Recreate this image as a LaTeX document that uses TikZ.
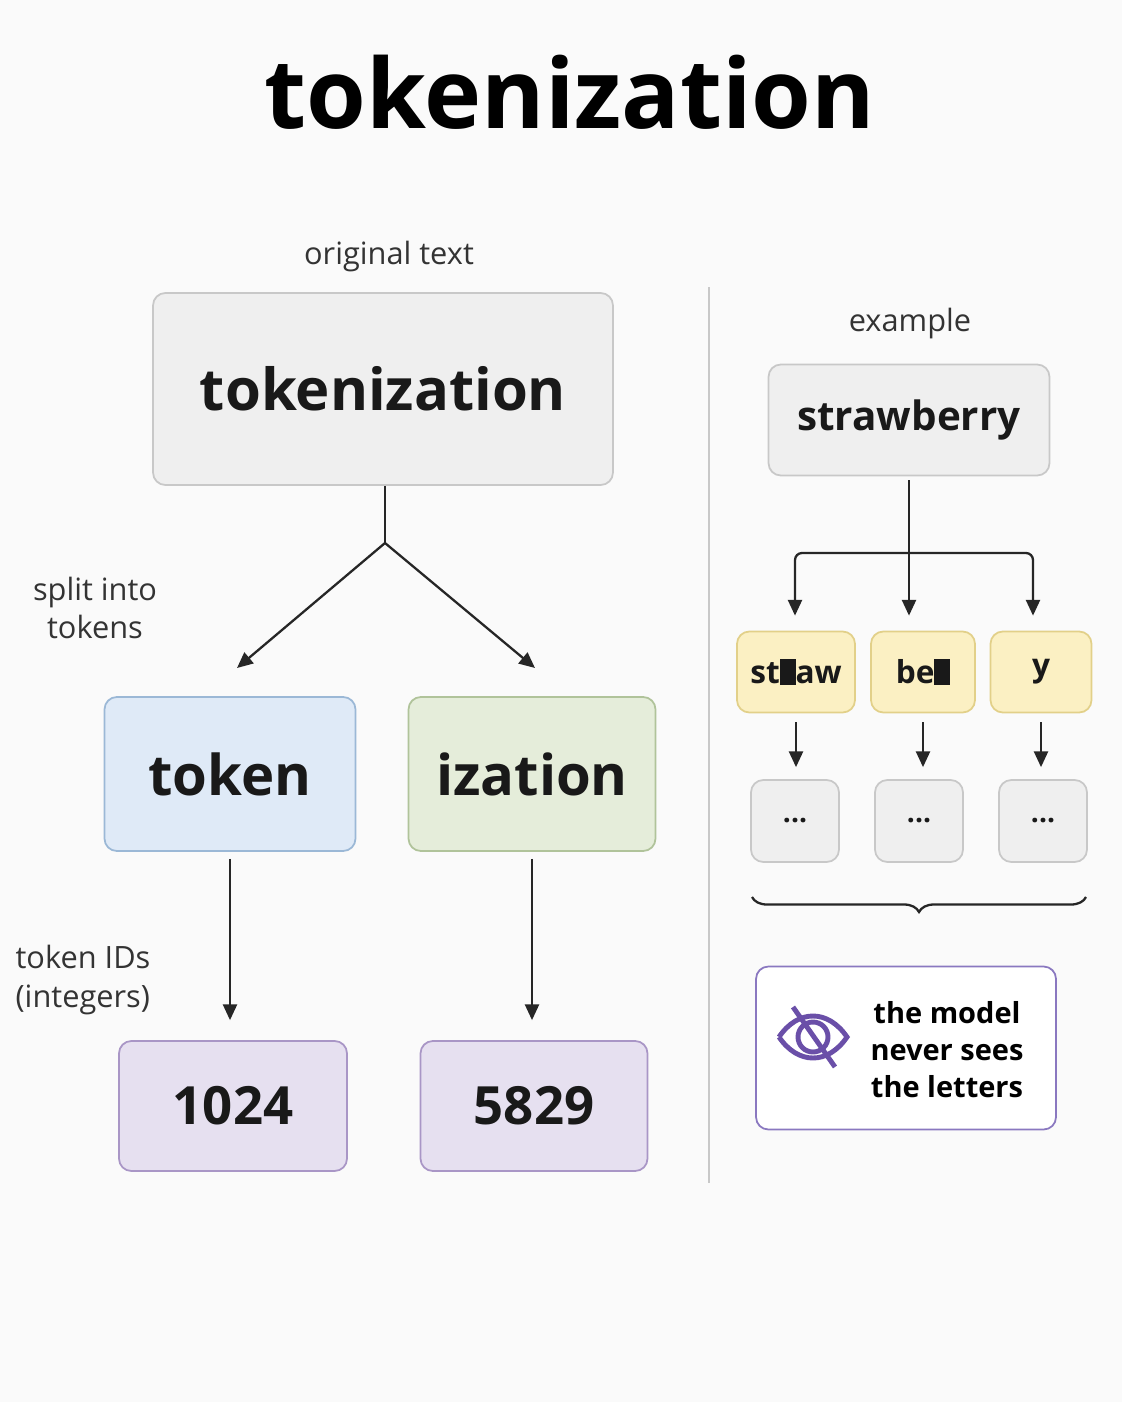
\documentclass[tikz,border=0pt]{standalone}
\usepackage{fontspec}
\setmainfont{Open Sans}
\usetikzlibrary{arrows.meta,decorations.pathreplacing}
\definecolor{bggray}{RGB}{250,250,250}
\definecolor{boxgray}{RGB}{239,239,239}
\definecolor{linegray}{RGB}{200,200,200}
\definecolor{tokblue}{RGB}{223,234,247}
\definecolor{tokblueline}{RGB}{155,184,214}
\definecolor{tokgreen}{RGB}{229,237,218}
\definecolor{tokgreenline}{RGB}{176,195,154}
\definecolor{idpurple}{RGB}{230,224,240}
\definecolor{idpurpleline}{RGB}{169,150,198}
\definecolor{partyellow}{RGB}{251,240,195}
\definecolor{partyellowline}{RGB}{226,208,137}
\definecolor{eyepurple}{RGB}{106,79,168}
\definecolor{noteline}{RGB}{138,120,192}
\tikzset{
  rbox/.style={draw, rounded corners=7pt, line width=1pt, inner sep=0pt, text=black!90},
  arr/.style={-{Triangle[length=9pt,width=8pt]}, line width=1.3pt, draw=black!85},
  label/.style={font=\fontsize{17.5}{22}\selectfont, text=black!80, align=center}
}
\begin{document}
\begin{tikzpicture}[x=0.02cm,y=-0.02cm]
\fill[bggray] (0,0) rectangle (1122,1402);
\useasboundingbox (0,0) rectangle (1122,1402);

% title
\node[font=\fontsize{55}{55}\selectfont\bfseries] (title) at (570,92) {tokenization};

% left side
\node[label] (origlab) at (389,257) {original text};
\node[rbox, fill=boxgray, draw=linegray, minimum width=9.2cm, minimum height=3.84cm,
      font=\fontsize{33}{33}\selectfont\bfseries] (orig) at (383,389) {tokenization};
\coordinate (fork) at (385,543);
\node[rbox, fill=tokblue, draw=tokblueline, minimum width=5.02cm, minimum height=3.08cm,
      font=\fontsize{32}{32}\selectfont\bfseries] (tok1) at (230,774) {token};
\node[rbox, fill=tokgreen, draw=tokgreenline, minimum width=4.94cm, minimum height=3.08cm,
      font=\fontsize{32}{32}\selectfont\bfseries] (tok2) at (532,774) {ization};
\coordinate (tip1) at (237,668);
\coordinate (tip2) at (535,668);
\draw[line width=1.3pt, black!85] (orig.south -| fork) -- (fork);
\draw[arr] (fork) -- (tip1);
\draw[arr] (fork) -- (tip2);
\node[label] (splitlab) at (95,608) {split into\\tokens};

\node[rbox, fill=idpurple, draw=idpurpleline, minimum width=4.56cm, minimum height=2.6cm,
      font=\fontsize{30}{30}\selectfont\bfseries] (id1) at (233,1106) {1024};
\node[rbox, fill=idpurple, draw=idpurpleline, minimum width=4.54cm, minimum height=2.6cm,
      font=\fontsize{30}{30}\selectfont\bfseries] (id2) at (534,1106) {5829};
\draw[arr] ([yshift=-0.14cm]tok1.south) -- ([yshift=0.4cm]id1.north -| tok1.south);
\draw[arr] ([yshift=-0.14cm]tok2.south) -- ([yshift=0.4cm]id2.north -| tok2.south);
\node[label, align=left] (idlab) at (83,980) {token IDs\\(integers)};

% separator
\draw[linegray, line width=1.2pt] (709,287) -- (709,1183);

% right side
\node[label] (exlab) at (910,324) {example};
\node[rbox, fill=boxgray, draw=linegray, minimum width=5.62cm, minimum height=2.22cm,
      font=\fontsize{23}{23}\selectfont\bfseries] (straw) at (909,420) {strawberry};

\node[rbox, fill=partyellow, draw=partyellowline, minimum width=2.36cm, minimum height=1.62cm,
      font=\fontsize{18}{18}\selectfont\bfseries] (p1) at (796,672) {st\rule[-0.05em]{0.5em}{0.85em}aw};
\node[rbox, fill=partyellow, draw=partyellowline, minimum width=2.08cm, minimum height=1.62cm,
      font=\fontsize{18}{18}\selectfont\bfseries] (p2) at (923,672) {be\rule[-0.05em]{0.5em}{0.85em}};
\node[rbox, fill=partyellow, draw=partyellowline, minimum width=2.02cm, minimum height=1.62cm,
      font=\fontsize{18}{18}\selectfont\bfseries] (p3) at (1041,672) {y};

\draw[arr] ([yshift=-0.08cm]straw.south) -- ([yshift=0.3cm]p2.north -| straw.south);
\coordinate (bar1) at (795,553);
\coordinate (bar3) at (1033,553);
\draw[arr, rounded corners=4pt] (straw.south |- bar1) -- (bar1) -- ([yshift=0.3cm]p1.north -| bar1);
\draw[arr, rounded corners=4pt] (straw.south |- bar3) -- (bar3) -- ([yshift=0.3cm]p3.north -| bar3);

\foreach \i/\x in {1/795,2/919,3/1043}{
  \node[rbox, fill=boxgray, draw=linegray, minimum width=1.76cm, minimum height=1.64cm,
        font=\fontsize{16}{16}\selectfont\bfseries] (q\i) at (\x,821) {...};
}
\draw[arr] ([yshift=-0.18cm]p1.south) -- ([yshift=0.24cm]q1.north -| p1.south);
\draw[arr] ([yshift=-0.18cm]p2.south) -- ([yshift=0.24cm]q2.north -| p2.south);
\draw[arr] ([yshift=-0.18cm]p3.south) -- ([yshift=0.24cm]q3.north -| p3.south);

\draw[decorate, decoration={brace, mirror, amplitude=0.3cm}, line width=1.3pt, black!85]
  (752,897) -- (1086,897);

\node[rbox, fill=white, draw=noteline, minimum width=6cm, minimum height=3.26cm] (note) at (906,1048) {};
\node[font=\fontsize{16.5}{21}\selectfont\bfseries, align=center] (notetext) at (947,1050)
  {the model\\never sees\\the letters};
% crossed-out eye
\begin{scope}[shift={(813,1037)}, eyepurple, line width=2.8pt]
  \draw (-34,0) .. controls (-15,-28) and (15,-28) .. (34,0)
               .. controls (15,28) and (-15,28) .. (-34,0);
  \draw (0,0) circle[radius=0.3cm];
  \draw (-20,-30) -- (22,30);
\end{scope}
\end{tikzpicture}
\end{document}
